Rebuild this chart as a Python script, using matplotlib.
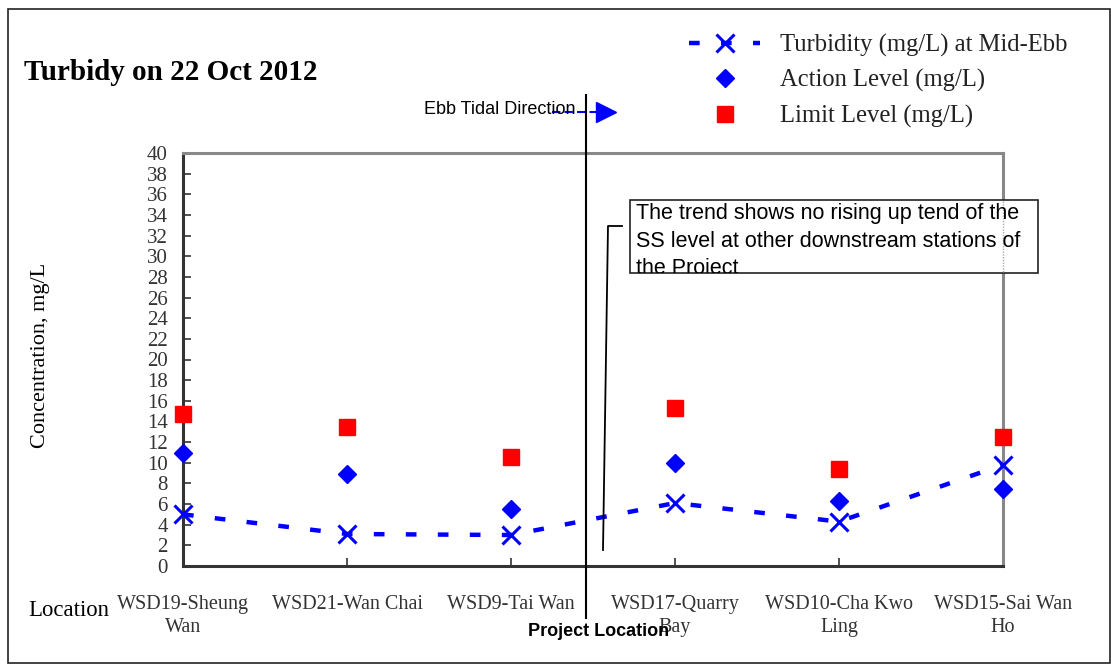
import numpy as np
import matplotlib
matplotlib.use('Agg')
import matplotlib.pyplot as plt
from matplotlib.lines import Line2D
from matplotlib.patches import Rectangle
from matplotlib.transforms import Bbox, TransformedBbox

# station names and measured values (mg/L)
stations = ['WSD19-Sheung\nWan', 'WSD21-Wan Chai', 'WSD9-Tai Wan',
            'WSD17-Quarry\nBay', 'WSD10-Cha Kwo\nLing', 'WSD15-Sai Wan\nHo']
turbidity = [5.0, 3.1, 3.0, 6.1, 4.3, 9.8]
action_level = [10.9, 8.9, 5.5, 10.0, 6.3, 7.5]
limit_level = [14.7, 13.5, 10.6, 15.3, 9.4, 12.5]
yticks = list(range(0, 41, 2))

W, H = 1111, 664
serif = ['Liberation Serif', 'DejaVu Serif']
sans = ['Liberation Sans', 'DejaVu Sans']

def fx(px):
    return px / W

def fy(py):
    return 1 - py / H

fig = plt.figure(figsize=(W / 100, H / 100), dpi=100)
ax = fig.add_axes([fx(183), fy(566), fx(1003) - fx(183), fy(153) - fy(566)])

x = np.arange(len(stations))
ax.plot(x, turbidity, color='#0000ff', lw=3.2, ls=(0, (2.4, 4.8)),
        marker='x', ms=13, mew=2.2, clip_on=False,
        label='Turbidity (mg/L) at Mid-Ebb', zorder=4)
ax.plot(x, action_level, ls='none', marker='D', ms=9.5, color='#0000ff',
        clip_on=False, label='Action Level (mg/L)', zorder=4)
ax.plot(x, limit_level, ls='none', marker='s', ms=11, color='#ff0000',
        clip_on=False, label='Limit Level (mg/L)', zorder=4)

ax.set_xlim(0, len(stations) - 1)
ax.set_ylim(0, 40)
ax.set_yticks(yticks)
ax.set_yticklabels([str(v) for v in yticks], family=serif, fontsize=15, color='#333333')
ax.set_xticks(x)
ax.set_xticklabels(stations, family=serif, fontsize=14.5, color='#333333',
                   linespacing=1.3)
ax.tick_params(axis='both', direction='in', length=6, width=1.2, color='#333333')
ax.tick_params(axis='x', pad=21)
ax.tick_params(axis='y', pad=11)
ax.set_ylabel('Concentration, mg/L', family=serif, fontsize=16)
ax.yaxis.set_label_coords(fx(50), fy(355), transform=fig.transFigure)

for s in ['left', 'bottom']:
    ax.spines[s].set_color('#333333')
    ax.spines[s].set_linewidth(2.2)
for s in ['top', 'right']:
    ax.spines[s].set_color('#888888')
    ax.spines[s].set_linewidth(2.2)

leg = ax.legend(loc='upper left', bbox_to_anchor=(fx(689), fy(34)),
                bbox_transform=fig.transFigure, frameon=False,
                prop={'family': serif, 'size': 17.7}, handlelength=2.9,
                labelspacing=0.5, handletextpad=0.8, borderaxespad=0,
                borderpad=0)
for t in leg.get_texts():
    t.set_color('#222222')

# figure frame
fig.patches.append(Rectangle((fx(8), fy(663)), fx(1110) - fx(8), fy(9) - fy(663),
                             transform=fig.transFigure, fill=False,
                             edgecolor='#222222', lw=1.2))

fig.text(fx(24), fy(72), 'Turbidy on 22 Oct 2012', family=serif, fontsize=21,
         fontweight='bold', va='center', ha='left')
fig.text(fx(28), fy(611), 'Location', family=serif, fontsize=16.4, va='center', ha='left')

# ebb tidal direction arrow
fig.text(fx(424), fy(109), 'Ebb Tidal Direction', family=sans, fontsize=13,
         va='center', ha='left')
fig.lines.append(Line2D([fx(552), fx(596)], [fy(112), fy(112)], transform=fig.transFigure,
                        color='#0000ff', lw=1.5, ls=(0, (4, 2))))
fig.lines.append(Line2D([fx(606)], [fy(112)], transform=fig.transFigure,
                        marker='>', ms=15, color='#0000ff', ls='none'))

# project location line
fig.lines.append(Line2D([fx(586), fx(586)], [fy(95), fy(618)], transform=fig.transFigure,
                        color='black', lw=1.5, zorder=5))
fig.text(fx(528), fy(632), 'Project Location', family=sans, fontsize=13,
         fontweight='bold', va='center', ha='left', zorder=6)

# callout box
fig.lines.append(Line2D([fx(603), fx(608), fx(622)], [fy(550), fy(226), fy(226)],
                        transform=fig.transFigure, color='black', lw=1.3))
fig.patches.append(Rectangle((fx(630), fy(273)), fx(1038) - fx(630), fy(200) - fy(273),
                             transform=fig.transFigure, facecolor='white',
                             edgecolor='#222222', lw=1.2, zorder=3))
fig.lines.append(Line2D([fx(1003), fx(1003)], [fy(201), fy(272)], transform=fig.transFigure,
                        color='#aaaaaa', lw=1, ls=(0, (1, 1)), zorder=4))
note = fig.text(fx(636), fy(203), 'The trend shows no rising up tend of the\n'
                'SS level at other downstream stations of\nthe Project',
                family=sans, fontsize=15.5, va='top', ha='left', linespacing=1.42,
                zorder=5)
note.set_clip_box(TransformedBbox(Bbox([[fx(630), fy(273)], [fx(1038), fy(200)]]),
                                  fig.transFigure))
note.set_clip_on(True)

fig.savefig('out.png', dpi=100)
